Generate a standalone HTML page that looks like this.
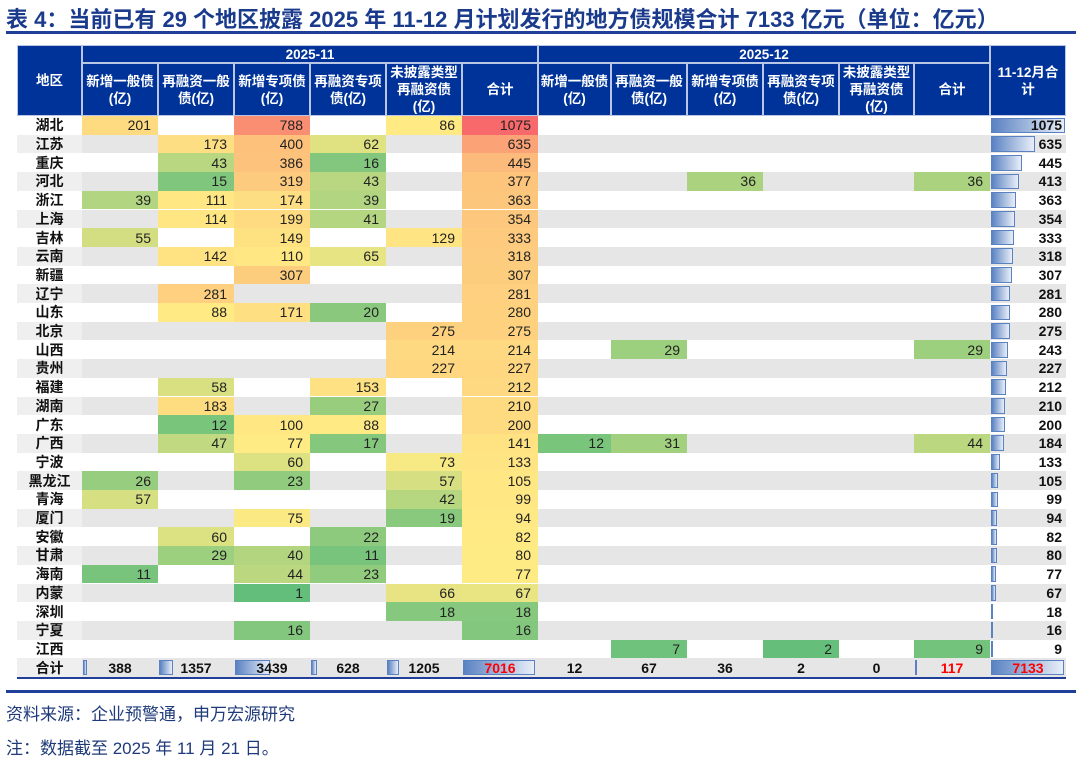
<!DOCTYPE html>
<html><head><meta charset="utf-8">
<style>
html,body{margin:0;padding:0;background:#fff;}
#root{position:relative;width:1080px;height:757px;overflow:hidden;font-family:"Liberation Sans","Noto Sans CJK SC",sans-serif;}
.abs{position:absolute;box-sizing:border-box;}
.hd{background:#003399;color:#fff;font-weight:bold;font-size:13.5px;display:flex;align-items:center;justify-content:center;text-align:center;line-height:17px;border:1px solid #b9c6e6;white-space:nowrap;}
.cell{font-size:14px;color:#222;display:flex;align-items:center;justify-content:flex-end;padding-right:7px;}
.lab{font-size:14px;font-weight:bold;color:#111;display:flex;align-items:center;justify-content:center;}
.tot{font-size:14px;font-weight:bold;color:#111;display:flex;align-items:center;justify-content:center;}
.bar{background:linear-gradient(to right,#5a82c2,#e8eef8);border:1px solid #5a82c2;}
</style></head>
<body>
<div id="root">
  <div class="abs" style="left:6px;top:2px;font-size:22px;font-weight:bold;color:#1a3a8c;white-space:nowrap;">表 4：当前已有 29 个地区披露 2025 年 11-12 月计划发行的地方债规模合计 7133 亿元（单位：亿元）</div>
  <div class="abs" style="left:6px;top:31px;width:1070px;height:3px;background:#1f3f99;"></div>
  <div class="abs" style="left:17px;top:677px;width:1049px;height:2px;background:#1f3f99;"></div>
  <div class="abs" style="left:6px;top:690px;width:1070px;height:3px;background:#1f3f99;"></div>
  <div class="abs" style="left:6px;top:700px;font-size:17px;color:#1f3a7a;">资料来源：企业预警通，申万宏源研究</div>
  <div class="abs" style="left:6px;top:734px;font-size:17px;color:#1f3a7a;">注：数据截至 2025 年 11 月 21 日。</div>
</div>
<script>
const regions=["湖北","江苏","重庆","河北","浙江","上海","吉林","云南","新疆","辽宁","山东","北京","山西","贵州","福建","湖南","广东","广西","宁波","黑龙江","青海","厦门","安徽","甘肃","海南","内蒙","深圳","宁夏","江西"];
const subHeaders=["新增一般债<br>(亿)","再融资一般<br>债(亿)","新增专项债<br>(亿)","再融资专项<br>债(亿)","未披露类型<br>再融资债<br>(亿)","合计"];
const nov=[
[201,null,788,null,86,1075],[null,173,400,62,null,635],[null,43,386,16,null,445],[null,15,319,43,null,377],
[39,111,174,39,null,363],[null,114,199,41,null,354],[55,null,149,null,129,333],[null,142,110,65,null,318],
[null,null,307,null,null,307],[null,281,null,null,null,281],[null,88,171,20,null,280],[null,null,null,null,275,275],
[null,null,null,null,214,214],[null,null,null,null,227,227],[null,58,null,153,null,212],[null,183,null,27,null,210],
[null,12,100,88,null,200],[null,47,77,17,null,141],[null,null,60,null,73,133],[26,null,23,null,57,105],
[57,null,null,null,42,99],[null,null,75,null,19,94],[null,60,null,22,null,82],[null,29,40,11,null,80],
[11,null,44,23,null,77],[null,null,1,null,66,67],[null,null,null,null,18,18],[null,null,16,null,null,16],
[null,null,null,null,null,null]];
const dec=[
[],[],[],[null,null,36,null,null,36],[],[],[],[],[],[],[],[],[null,29,null,null,null,29],[],[],[],[],
[12,31,null,null,null,44],[],[],[],[],[],[],[],[],[],[],[null,7,null,2,null,9]];
const grand=[1075,635,445,413,363,354,333,318,307,281,280,275,243,227,212,210,200,184,133,105,99,94,82,80,77,67,18,16,9];
const totals=[388,1357,3439,628,1205,7016,12,67,36,2,0,117];
const grandTotal=7133;

const root=document.getElementById('root');
const colX=[82,158,234,310,386,462,538,611,687,763,839,914,990];
const lastX=990,lastW=76,labX=17,labW=65;
const top0=116,rh=18.7;
function mk(cls,l,t,w,h,html){const d=document.createElement('div');d.className='abs '+cls;d.style.left=l+'px';d.style.top=t+'px';d.style.width=w+'px';d.style.height=h+'px';if(html!==undefined)d.innerHTML=html;root.appendChild(d);return d;}

let e;
e=mk('hd',labX,45,labW,71,'地区');


e=mk('hd',82,45,456,18,'2025-11');


e=mk('hd',538,45,452,18,'2025-12');


e=mk('hd',lastX,45,lastW,71,'11-12月合<br>计');


for(let i=0;i<12;i++){
  e=mk('hd',colX[i],63,colX[i+1]-colX[i],53,subHeaders[i%6]);
  
  
}

const allVals=[];
nov.forEach(r=>r.forEach(v=>{if(v!=null)allVals.push(v);}));
dec.forEach(r=>r.forEach(v=>{if(v!=null)allVals.push(v);}));
const sorted=allVals.slice().sort((a,b)=>a-b);
const vmin=sorted[0],vmax=sorted[sorted.length-1];
const vmid=sorted.length%2?sorted[(sorted.length-1)/2]:(sorted[sorted.length/2-1]+sorted[sorted.length/2])/2;
const G=[99,190,123],Y=[255,235,132],R=[248,105,107];
function mix(a,b,t){return 'rgb('+a.map((x,i)=>Math.round(x+(b[i]-x)*t)).join(',')+')';}
function color(v){if(v<=vmid)return mix(G,Y,(v-vmin)/(vmid-vmin||1));return mix(Y,R,(v-vmid)/(vmax-vmid||1));}

const gMax=Math.max(...grand);
regions.forEach((name,r)=>{
  const t=top0+r*rh;
  const gray=r%2===1;
  if(gray){
    e=mk('',labX,t,labW,rh);e.style.background='#efefef';
    
    
    e=mk('',82,t,984,rh);e.style.background='#e6e6e6';
    
    
  }
  e=mk('lab',labX,t,labW,rh,name);
  
  
  const vals=nov[r].concat(dec[r].length?dec[r]:[null,null,null,null,null,null]);
  vals.forEach((v,c)=>{
    if(v==null)return;
    e=mk('cell',colX[c],t,colX[c+1]-colX[c],rh,String(v));
    e.style.background=color(v);
    
    
  });
  const bw=grand[r]/gMax*74;
  e=mk('bar',lastX+1,t+1.5,Math.max(bw,2),rh-3);
  
  
  e=mk('cell',lastX,t,lastW,rh,String(grand[r]));
  e.style.fontWeight='bold';e.style.color='#111';e.style.paddingRight='4px';
  
  
});

const tt=top0+regions.length*rh;
e=mk('',labX,tt,labW,rh);e.style.background='#efefef';


e=mk('',82,tt,984,rh);e.style.background='#e6e6e6';


e=mk('lab',labX,tt,labW,rh,'合计');


totals.forEach((v,c)=>{
  const w=colX[c+1]-colX[c];
  const bw=v/grandTotal*(w-3);
  if(bw>=1){
    e=mk('bar',colX[c]+1,tt+1.5,bw,rh-3);
    
    
  }
  e=mk('tot',colX[c],tt,w,rh,String(v));
  if(c===5||c===11)e.style.color='#ff0000';
  
  
});
e=mk('bar',lastX+1,tt+1.5,grandTotal/grandTotal*73,rh-3);


e=mk('tot',lastX,tt,lastW,rh,String(grandTotal));
e.style.color='#ff0000';


</script>
</body></html>
